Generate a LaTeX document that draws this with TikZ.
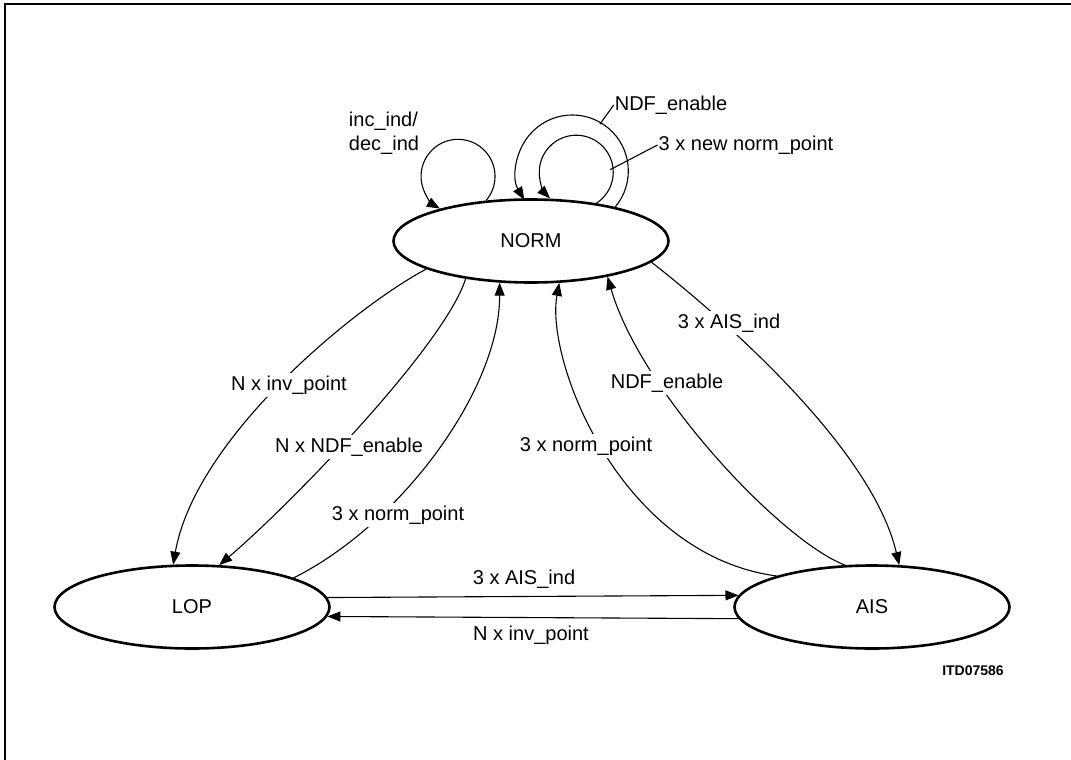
\documentclass[tikz,border=0pt]{standalone}
\usepackage{fontspec}
\setmainfont{Liberation Sans}
\usetikzlibrary{arrows.meta,shapes.geometric}
\begin{document}
\begin{tikzpicture}[x=1pt,y=1pt,
  state/.style={ellipse, draw, line width=2.6pt, minimum width=275pt, minimum height=83pt, inner sep=0pt, font=\fontsize{20}{24}\selectfont},
  edge/.style={line width=1.1pt, -{Triangle[length=13pt,width=10pt]}},
  plain/.style={line width=1.1pt},
  lbl/.style={fill=white, inner sep=3pt, font=\fontsize{20}{24}\selectfont},
  toplbl/.style={inner sep=1pt, font=\fontsize{20}{24}\selectfont}]
\useasboundingbox (0,0) rectangle (1071,-760);
% frame
\draw[line width=1.8pt] (5,-760) -- (5,-4) -- (1071,-4);
% states
\node[state] (norm) at (531,-241) {NORM};
\node[state] (lop) at (192,-607) {LOP};
\node[state] (ais) at (872,-607) {AIS};
% self loops
\draw[edge] (norm.138.5) arc[start angle=-40.8, end angle=240.6, radius=37];
\draw[edge] (norm.22.1) arc[start angle=-40, end angle=211, radius=56];
\draw[edge] (norm.30.7) arc[start angle=-57, end angle=225, radius=37];
\coordinate (outerpt) at (599.9,-124.2);
\coordinate (innerpt) at (610.1,-169.7);
\node[toplbl, align=left] (lblinc) at (384,-133) {inc\_ind/\\dec\_ind};
\node[toplbl] (lblndfloop) at (671,-105) {NDF\_enable};
\node[toplbl] (lblnew) at (746,-145) {3 x new norm\_point};
\draw[plain] (lblndfloop.west) -- (outerpt);
\draw[plain] (lblnew.west) -- (innerpt);
% NORM -> LOP
\draw[edge] (norm.-165.5) .. controls (350,-310) and (195,-440) .. (lop.114.5);
\draw[edge] (norm.-150.4) .. controls (445,-345) and (290,-505) .. (lop.57.7);
% LOP -> NORM
\draw[edge] (lop.16.6) .. controls (400,-525) and (500,-390) .. (norm.-127.8);
% AIS -> NORM
\draw[edge] (ais.162.9) .. controls (620,-555) and (545,-360) .. (norm.-56.1);
\draw[edge] (ais.123.2) .. controls (780,-540) and (640,-390) .. (norm.-25.1);
% NORM -> AIS
\draw[edge] (norm.-10.5) .. controls (700,-300) and (870,-440) .. (ais.57.7);
% LOP <-> AIS
\draw[edge] (lop.4.8) -- (ais.175.2);
\draw[edge] (ais.-175.2) -- (lop.-4.8);
% labels
\node[lbl] (l1) at (289,-385) {N x inv\_point};
\node[lbl] (l2) at (349,-447) {N x NDF\_enable};
\node[lbl] (l3) at (398,-515) {3 x norm\_point};
\node[lbl] (l4) at (586,-446) {3 x norm\_point};
\node[lbl] (l5) at (667,-383) {NDF\_enable};
\node[lbl] (l6) at (729,-323) {3 x AIS\_ind};
\node[toplbl] (l7) at (524,-579) {3 x AIS\_ind};
\node[toplbl] (l8) at (531,-635) {N x inv\_point};
\node[inner sep=1pt, font=\fontsize{14}{16}\selectfont\bfseries] (itd) at (973,-671) {ITD07586};
\end{tikzpicture}
\end{document}
